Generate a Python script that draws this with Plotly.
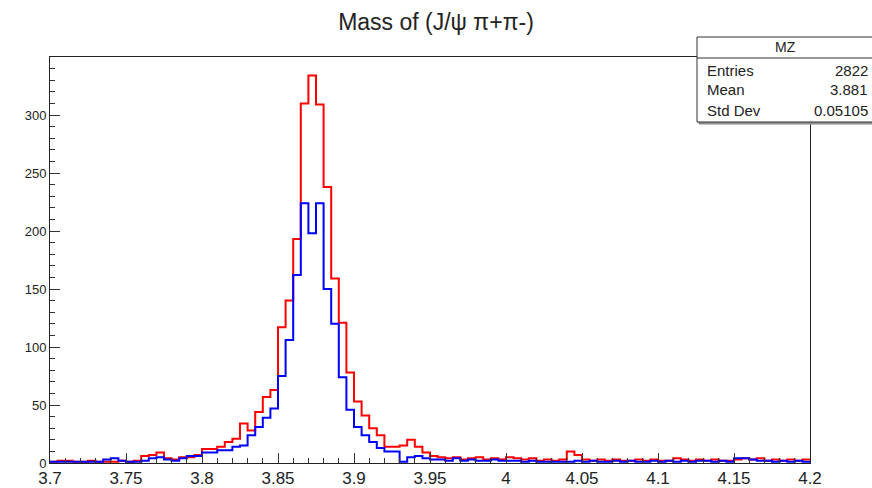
import plotly.graph_objects as go

# ---- data ----
x_min, x_max, n_bins = 3.7, 4.2, 100
red_counts = [1, 2, 2, 1, 1, 2, 1, 1, 1, 2,
              1, 2, 6, 7, 9, 4, 3, 5, 5, 7,
              12, 12, 14, 18, 21, 34, 28, 44, 57, 63,
              117, 140, 193, 310, 334, 309, 238, 159, 121, 78,
              53, 41, 30, 24, 14, 14, 15, 20, 14, 9,
              6, 5, 4, 5, 3, 4, 5, 3, 4, 3,
              5, 4, 3, 4, 2, 3, 2, 3, 10, 7,
              3, 2, 3, 2, 3, 2, 2, 3, 2, 3,
              2, 2, 4, 3, 2, 3, 2, 3, 2, 2,
              3, 4, 3, 4, 2, 3, 2, 3, 2, 3]
blue_counts = [1, 1, 1, 1, 1, 1, 1, 3, 4, 2,
               1, 1, 2, 4, 5, 3, 2, 4, 6, 6,
               9, 9, 11, 11, 14, 15, 24, 31, 39, 47,
               75, 106, 162, 224, 198, 224, 150, 120, 74, 46,
               31, 24, 18, 13, 10, 10, 1, 5, 6, 4,
               3, 3, 2, 4, 2, 3, 2, 2, 3, 2,
               2, 2, 1, 2, 1, 1, 1, 1, 1, 2,
               1, 2, 1, 1, 2, 1, 2, 1, 1, 2,
               1, 2, 1, 2, 1, 2, 2, 1, 2, 1,
               4, 4, 3, 2, 2, 1, 2, 1, 2, 1]
x_tick_vals = [3.7, 3.75, 3.8, 3.85, 3.9, 3.95, 4.0, 4.05, 4.1, 4.15, 4.2]
x_tick_text = ["3.7", "3.75", "3.8", "3.85", "3.9", "3.95", "4", "4.05", "4.1", "4.15", "4.2"]
y_tick_vals = [0, 50, 100, 150, 200, 250, 300]
title_text = "Mass of (J/ψ π+π-)"
stats_name = "MZ"
stats_labels = ["Entries", "Mean", "Std Dev"]
stats_values = ["2822", "3.881", "0.05105"]

bw = (x_max - x_min) / n_bins
edges = [x_min + i * bw for i in range(n_bins + 1)]

def step(counts):
    return edges, list(counts) + [counts[-1]]

fig = go.Figure()
for counts, col in [(red_counts, "#ff0000"), (blue_counts, "#0000ff")]:
    xs, ys = step(counts)
    fig.add_trace(go.Scatter(x=xs, y=ys, mode="lines", line=dict(color=col, width=2, shape="hv"),
                             showlegend=False, hoverinfo="skip"))

font = "Liberation Sans, Arial, Helvetica, sans-serif"
fig.update_layout(
    width=872, height=488,
    margin=dict(l=50, r=62, t=57, b=25),
    paper_bgcolor="white", plot_bgcolor="white",
    font=dict(family=font, color="#222"),
    title=dict(text=title_text, x=0.5, xanchor="center", xref="container",
               y=1 - 22 / 488, yanchor="middle", yref="container",
               font=dict(size=23, family=font, color="#222")),
    xaxis=dict(range=[x_min, x_max], tickvals=x_tick_vals, ticktext=x_tick_text,
               ticks="inside", ticklen=10, tickcolor="#333", tickwidth=1,
               minor=dict(dtick=0.01, tick0=3.7, ticks="inside", ticklen=5, tickcolor="#333"),
               showline=True, linecolor="#222", linewidth=1, mirror=True, automargin=False,
               showgrid=False, zeroline=False, tickfont=dict(size=17, color="#222")),
    yaxis=dict(range=[0, 350], tickvals=y_tick_vals,
               ticks="inside", ticklen=10, tickcolor="#333", tickwidth=1,
               minor=dict(dtick=10, tick0=0, ticks="inside", ticklen=5, tickcolor="#333"),
               showline=True, linecolor="#222", linewidth=1, mirror=True, automargin=False,
               showgrid=False, zeroline=False, tickfont=dict(size=13, color="#222")),
)

# stats box (paper coords; plot area spans x 50..810 px, y 57..463 px)
def px(x):
    return (x - 50) / 760
def py(y):
    return (463 - y) / 406

fig.add_shape(type="rect", xref="paper", yref="paper", x0=px(699), x1=px(875), y0=py(124), y1=py(39),
              line=dict(color="#888", width=1), fillcolor="#999", layer="above")
fig.add_shape(type="rect", xref="paper", yref="paper", x0=px(697), x1=px(873), y0=py(122), y1=py(37),
              line=dict(color="#333", width=1), fillcolor="white", layer="above")
fig.add_shape(type="line", xref="paper", yref="paper", x0=px(697), x1=px(873), y0=py(58), y1=py(58),
              line=dict(color="#333", width=1), layer="above")
fig.add_annotation(xref="paper", yref="paper", x=px(785), y=py(47.5), text=stats_name, showarrow=False,
                   xanchor="center", yanchor="middle", font=dict(size=14, family=font, color="#222"))
for i, (lab, val) in enumerate(zip(stats_labels, stats_values)):
    yy = py(70 + 20 * i)
    fig.add_annotation(xref="paper", yref="paper", x=px(705), y=yy, text=lab, showarrow=False,
                       xanchor="left", yanchor="middle", font=dict(size=15, family=font, color="#222"))
    fig.add_annotation(xref="paper", yref="paper", x=px(870), y=yy, text=val, showarrow=False,
                       xanchor="right", yanchor="middle", font=dict(size=15, family=font, color="#222"))

fig.write_html("out.html")
